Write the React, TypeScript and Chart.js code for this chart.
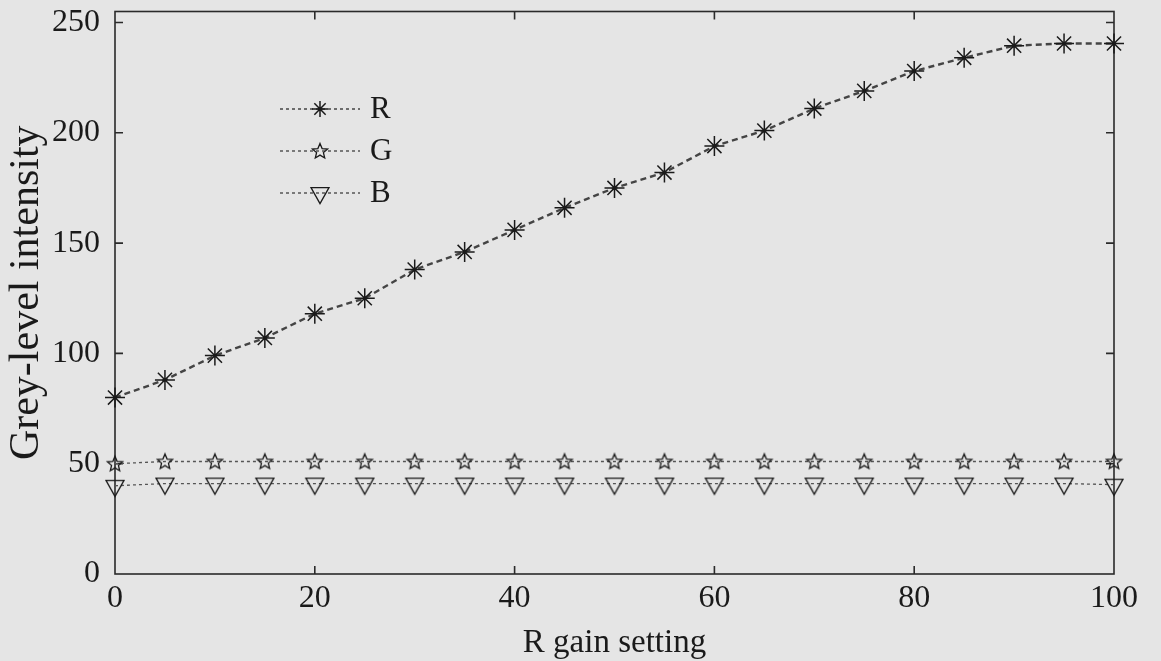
import { useEffect, useRef } from "react";
import { Chart, registerables } from "chart.js";

Chart.register(...registerables);

const X_VALUES = [0, 5, 10, 15, 20, 25, 30, 35, 40, 45, 50, 55, 60, 65, 70, 75, 80, 85, 90, 95, 100];
const R_VALUES = [80, 88, 99, 107, 118, 125, 138, 146, 156, 166, 175, 182, 194, 201, 211, 219, 228, 234, 239.5, 240.5, 240.5];
const G_VALUES = [50, 51, 51, 51, 51, 51, 51, 51, 51, 51, 51, 51, 51, 51, 51, 51, 51, 51, 51, 51, 51];
const B_VALUES = [40, 41, 41, 41, 41, 41, 41, 41, 41, 41, 41, 41, 41, 41, 41, 41, 41, 41, 41, 41, 40.5];
const SERIES_LABELS = ["R", "G", "B"];
const X_TICKS = [0, 20, 40, 60, 80, 100];
const Y_TICKS = [0, 50, 100, 150, 200, 250];
const X_TITLE = "R gain setting";
const Y_TITLE = "Grey-level intensity";

const FONT_FAMILY = "'Liberation Serif', 'Times New Roman', serif";
const BG = "#e5e5e5";
const INK = "#1a1a1a";

function makePentagram(size: number, r: number, color: string, lw: number) {
  const c = document.createElement("canvas");
  c.width = size;
  c.height = size;
  const ctx = c.getContext("2d")!;
  ctx.translate(size / 2, size / 2 + 0.5);
  ctx.beginPath();
  for (let i = 0; i < 10; i++) {
    const rad = i % 2 === 0 ? r : r * 0.45;
    const a = -Math.PI / 2 + (i * Math.PI) / 5;
    const x = Math.cos(a) * rad;
    const y = Math.sin(a) * rad;
    if (i === 0) ctx.moveTo(x, y);
    else ctx.lineTo(x, y);
  }
  ctx.closePath();
  ctx.strokeStyle = color;
  ctx.lineWidth = lw;
  ctx.stroke();
  return c;
}

function makeDownTriangle(size: number, w: number, h: number, color: string, lw: number) {
  const c = document.createElement("canvas");
  c.width = size;
  c.height = size;
  const ctx = c.getContext("2d")!;
  const cx = size / 2;
  const cy = size / 2;
  ctx.beginPath();
  ctx.moveTo(cx - w / 2, cy - h / 3);
  ctx.lineTo(cx + w / 2, cy - h / 3);
  ctx.lineTo(cx, cy + (2 * h) / 3);
  ctx.closePath();
  ctx.strokeStyle = color;
  ctx.lineWidth = lw;
  ctx.stroke();
  return c;
}

function drawAsterisk(ctx: CanvasRenderingContext2D, x: number, y: number, r: number) {
  ctx.save();
  ctx.strokeStyle = INK;
  ctx.lineWidth = 1.5;
  ctx.setLineDash([]);
  ctx.beginPath();
  for (let k = 0; k < 4; k++) {
    const a = (k * Math.PI) / 4;
    ctx.moveTo(x - Math.cos(a) * r, y - Math.sin(a) * r);
    ctx.lineTo(x + Math.cos(a) * r, y + Math.sin(a) * r);
  }
  ctx.stroke();
  ctx.restore();
}

const framePlugin = {
  id: "frameTicks",
  beforeDatasetsDraw(chart: any) {
    const { ctx, chartArea } = chart;
    const { left, right, top, bottom } = chartArea;
    const xs = chart.scales.x;
    const ys = chart.scales.y;
    const tl = 8;
    ctx.save();
    ctx.strokeStyle = "#2a2a2a";
    ctx.lineWidth = 1.6;
    ctx.setLineDash([]);
    ctx.strokeRect(left, top, right - left, bottom - top);
    ctx.beginPath();
    xs.ticks.forEach((t: any) => {
      const px = xs.getPixelForValue(t.value);
      if (px <= left + 1 || px >= right - 1) return;
      ctx.moveTo(px, bottom);
      ctx.lineTo(px, bottom - tl);
      ctx.moveTo(px, top);
      ctx.lineTo(px, top + tl);
    });
    ys.ticks.forEach((t: any) => {
      const py = ys.getPixelForValue(t.value);
      if (py >= bottom - 1 || py <= top + 1) return;
      ctx.moveTo(left, py);
      ctx.lineTo(left + tl, py);
      ctx.moveTo(right, py);
      ctx.lineTo(right - tl, py);
    });
    ctx.stroke();
    ctx.restore();
  },
};

const legendPlugin = {
  id: "insideLegend",
  afterDraw(chart: any) {
    const { ctx } = chart;
    const x0 = 280;
    const x1 = 360;
    const mx = 320;
    const tx = 370;
    const y0 = 109;
    const dy = 42;
    ctx.save();
    chart.data.datasets.forEach((ds: any, i: number) => {
      const y = y0 + i * dy;
      ctx.strokeStyle = ds.borderColor;
      ctx.lineWidth = Math.min(ds.borderWidth, 1.3);
      ctx.setLineDash([3, 3]);
      ctx.beginPath();
      ctx.moveTo(x0, y);
      ctx.lineTo(x1, y);
      ctx.stroke();
      ctx.setLineDash([]);
      if (ds.pointStyle === "star") {
        drawAsterisk(ctx, mx, y, 8);
      } else if (ds.pointStyle instanceof HTMLCanvasElement) {
        const img = ds.pointStyle as HTMLCanvasElement;
        ctx.drawImage(img, mx - img.width / 2, y - img.height / 2);
      }
      ctx.fillStyle = INK;
      ctx.font = `31px ${FONT_FAMILY}`;
      ctx.textAlign = "left";
      ctx.textBaseline = "middle";
      ctx.fillText(ds.label, tx, y + 1);
    });
    ctx.restore();
  },
};

export default function App() {
  const canvasRef = useRef<HTMLCanvasElement | null>(null);

  useEffect(() => {
    document.body.style.margin = "0";
    document.body.style.background = BG;
    const canvas = canvasRef.current;
    if (!canvas) return;

    const pentagram = makePentagram(22, 8, INK, 1.3);
    const triangle = makeDownTriangle(26, 18, 16, INK, 1.3);

    const mk = (vals: number[]) => X_VALUES.map((x, i) => ({ x, y: vals[i] }));

    const chart = new Chart(canvas, {
      type: "line",
      data: {
        datasets: [
          {
            label: SERIES_LABELS[0],
            data: mk(R_VALUES),
            borderColor: "#444444",
            borderWidth: 2.4,
            borderDash: [6, 4],
            pointStyle: "star",
            pointRadius: 10,
            pointBorderColor: INK,
            pointBorderWidth: 1.5,
            pointBackgroundColor: INK,
            clip: false,
            tension: 0,
          },
          {
            label: SERIES_LABELS[1],
            data: mk(G_VALUES),
            borderColor: "#555555",
            borderWidth: 1.3,
            borderDash: [3, 3],
            pointStyle: pentagram as any,
            pointRadius: 8,
            clip: false,
            tension: 0,
          },
          {
            label: SERIES_LABELS[2],
            data: mk(B_VALUES),
            borderColor: "#555555",
            borderWidth: 1.3,
            borderDash: [3, 3],
            pointStyle: triangle as any,
            pointRadius: 9,
            clip: false,
            tension: 0,
          },
        ],
      },
      options: {
        animation: false,
        responsive: false,
        maintainAspectRatio: false,
        layout: { padding: { top: 11, right: 47, left: 0, bottom: 0 } },
        plugins: {
          legend: { display: false },
          tooltip: { enabled: false },
        },
        scales: {
          x: {
            type: "linear",
            min: 0,
            max: 100,
            afterBuildTicks: (s: any) => {
              s.ticks = X_TICKS.map((v) => ({ value: v }));
            },
            afterFit: (s: any) => {
              s.height = 87;
              s.paddingLeft = 0;
              s.paddingRight = 0;
            },
            grid: { display: false, drawTicks: false },
            border: { display: false },
            ticks: {
              color: INK,
              padding: 5,
              font: { family: FONT_FAMILY, size: 32 },
              maxRotation: 0,
            },
            title: {
              display: true,
              text: X_TITLE,
              color: INK,
              font: { family: FONT_FAMILY, size: 33, lineHeight: 1.1 },
              padding: { top: 0, bottom: 0 },
            },
          },
          y: {
            type: "linear",
            min: 0,
            max: 255,
            afterBuildTicks: (s: any) => {
              s.ticks = Y_TICKS.map((v) => ({ value: v }));
            },
            afterFit: (s: any) => {
              s.width = 115;
              s.paddingTop = 0;
              s.paddingBottom = 0;
            },
            grid: { display: false, drawTicks: false },
            border: { display: false },
            ticks: {
              color: INK,
              padding: 15,
              font: { family: FONT_FAMILY, size: 32 },
            },
            title: {
              display: true,
              text: Y_TITLE,
              color: INK,
              font: { family: FONT_FAMILY, size: 42, lineHeight: 1.3 },
              padding: { top: 0, bottom: 0 },
            },
          },
        },
      },
      plugins: [framePlugin, legendPlugin],
    });

    return () => chart.destroy();
  }, []);

  return (
    <div style={{ width: 1161, height: 661, background: BG }}>
      <canvas ref={canvasRef} width={1161} height={661} style={{ display: "block", width: 1161, height: 661 }} />
    </div>
  );
}
